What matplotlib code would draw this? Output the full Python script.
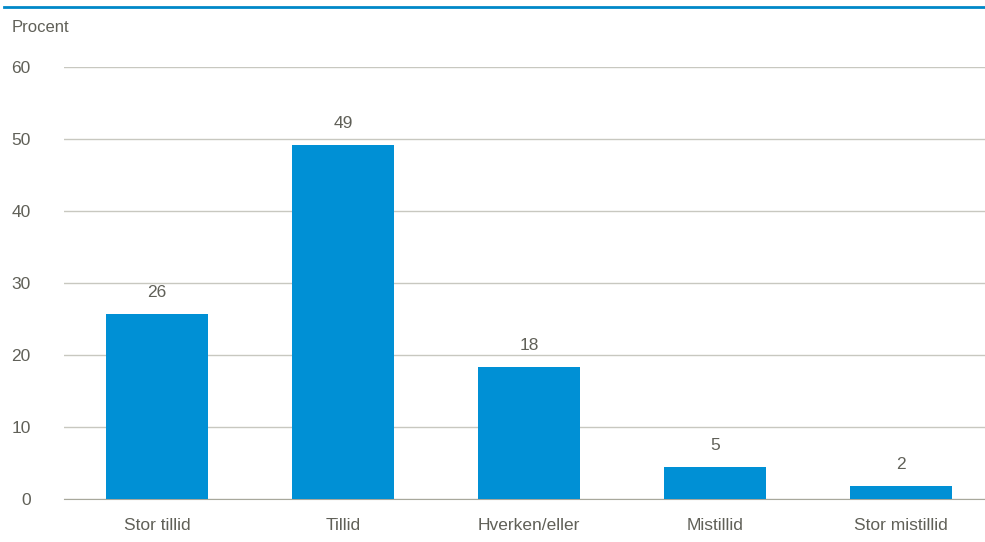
import matplotlib.pyplot as plt
from matplotlib.lines import Line2D

categories = ['Stor tillid', 'Tillid', 'Hverken/eller', 'Mistillid', 'Stor mistillid']
values = [25.7, 49.1, 18.3, 4.4, 1.8]
labels = ['26', '49', '18', '5', '2']

plt.rcParams['font.family'] = ['Liberation Sans Narrow', 'Liberation Sans', 'DejaVu Sans']
grey = '#606058'

fig = plt.figure(figsize=(9.85, 5.42), dpi=100)
ax = fig.add_axes([64/985, 1-499/542, 930/985, 432/542])

x = range(len(categories))
bars = ax.bar(x, values, width=0.55, color='#0090d5', zorder=3)
for b, lab in zip(bars, labels):
    ax.text(b.get_x() + b.get_width()/2, b.get_height() + 2.0, lab,
            ha='center', va='bottom', fontsize=12.5, color=grey)

ax.set_xlim(-0.5, 4.5)
ax.set_ylim(0, 60)
ax.set_yticks(range(0, 61, 10))
ax.set_xticks(list(x))
ax.set_xticklabels(categories)
ax.yaxis.grid(True, color='#c8c8c0', linewidth=1, zorder=0)
for s in ['top', 'right', 'left']:
    ax.spines[s].set_visible(False)
ax.spines['bottom'].set_color('#a8a89c')
ax.tick_params(axis='both', length=0, labelsize=12.5, labelcolor=grey)
ax.tick_params(axis='x', pad=14)
ax.tick_params(axis='y', pad=24)

fig.text(12/985, 1-27/542, 'Procent', fontsize=12, color=grey, va='center', ha='left')
fig.add_artist(Line2D([4/985, 1], [1-7/542, 1-7/542], color='#0088c8', linewidth=2))

fig.savefig('out.png', dpi=100)
